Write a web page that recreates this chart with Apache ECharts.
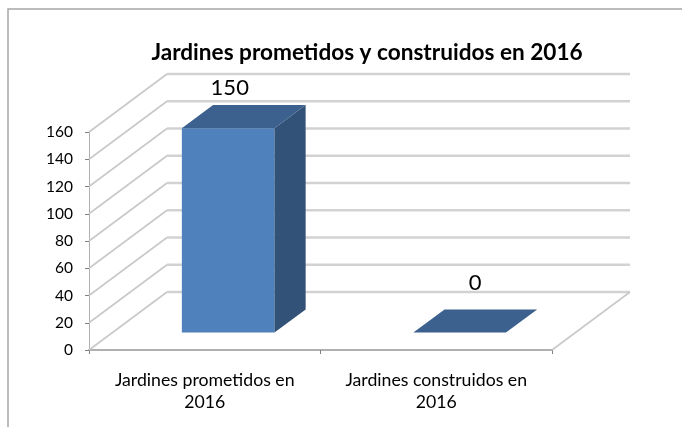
<!DOCTYPE html>
<html>
<head>
<meta charset="utf-8">
<style>html,body{margin:0;padding:0;background:#fff}#main{width:682px;height:427px}</style>
<script src="https://cdn.jsdelivr.net/npm/echarts@6/dist/echarts.min.js"></script>
</head>
<body>
<div id="main"></div>
<script>
var categories = ['Jardines prometidos en\n2016', 'Jardines construidos en\n2016'];
var values = [150, 0];
var gridValues = [0, 20, 40, 60, 80, 100, 120, 140, 160];

// profundidad del "3D" en pixeles
var depthX = 78, depthY = 58;
var barStart = 0.3, barEnd = 0.7, barShare = 0.4;
var gridColor = '#c9c9c9';
// las etiquetas estan movidas a mano en el original
var labelShift = [[-14, -6], [0, -15]];

var myChart = echarts.init(document.getElementById('main'));

function renderWall(params, api) {
    var v = api.value(0);
    var band = api.size([1, 0])[0];
    var left = api.coord([0, v]);
    var right = api.coord([1, v]);
    var x0 = left[0] - band / 2;
    var x1 = right[0] + band / 2;
    var y = left[1];
    var children = [{
        type: 'polyline',
        shape: {points: [[x0, y], [x0 + depthX, y - depthY]]},
        style: {stroke: gridColor, lineWidth: 1.6, fill: null}
    }, {
        type: 'line',
        shape: {x1: x0 + depthX, y1: y - depthY, x2: x1 + depthX, y2: y - depthY},
        style: {stroke: '#d2d2d2', lineWidth: 2.5}
    }];
    if (v === 0) {
        children.push({
            type: 'polyline',
            shape: {points: [[x1, y], [x1 + depthX, y - depthY]]},
            style: {stroke: gridColor, lineWidth: 1.6, fill: null}
        });
    }
    return {type: 'group', children: children};
}

function renderBar(params, api) {
    var cat = api.value(0);
    var v = api.value(1);
    var base = api.coord([cat, 0]);
    var top = api.coord([cat, v]);
    var band = api.size([1, 0])[0];
    var w = band * barShare;
    var dx = depthX * barStart, dy = depthY * barStart;
    var ddx = depthX * (barEnd - barStart), ddy = depthY * (barEnd - barStart);
    var x0 = base[0] - w / 2 + dx, x1 = x0 + w;
    var yb = base[1] - dy, yt = top[1] - dy;
    var children = [];
    if (v > 0) {
        children.push({
            type: 'rect',
            shape: {x: x0, y: yt, width: w, height: yb - yt},
            style: {fill: '#4f81bd'}
        });
        children.push({
            type: 'polygon',
            shape: {points: [[x1, yt], [x1 + ddx, yt - ddy], [x1 + ddx, yb - ddy], [x1, yb]]},
            style: {fill: '#325278'}
        });
    }
    children.push({
        type: 'polygon',
        shape: {points: [[x0, yt], [x0 + ddx, yt - ddy], [x1 + ddx, yt - ddy], [x1, yt]]},
        style: {fill: '#3c618e'}
    });
    children.push({
        type: 'text',
        style: {
            text: String(v),
            x: (x0 + x1) / 2 + ddx / 2 + labelShift[cat][0],
            y: yt - ddy + labelShift[cat][1],
            align: 'center',
            verticalAlign: 'bottom',
            fill: '#000',
            font: '22px Lato'
        }
    });
    return {type: 'group', children: children};
}

myChart.setOption({
    animation: false,
    backgroundColor: '#fff',
    title: {
        text: 'Jardines prometidos y construidos en 2016',
        left: 362,
        top: 36,
        textAlign: 'center',
        textStyle: {fontFamily: 'Lato', fontWeight: 'bold', fontSize: 22.6, color: '#000'}
    },
    graphic: [{
        type: 'polyline',
        silent: true,
        shape: {points: [[8, 427], [8, 9], [682, 9]]},
        style: {stroke: '#a6a6a6', lineWidth: 1.5, fill: null}
    }],
    grid: {left: 89, top: 132, width: 463, height: 218},
    xAxis: {
        type: 'category',
        data: categories,
        axisLine: {lineStyle: {color: '#b0b0b0', width: 2}},
        axisTick: {show: true, length: 4, lineStyle: {color: '#808080'}},
        axisLabel: {fontFamily: 'Lato', fontSize: 17.7, color: '#000', margin: 19, lineHeight: 22, interval: 0, hideOverlap: false}
    },
    yAxis: {
        type: 'value',
        min: 0,
        max: 160,
        interval: 20,
        axisLine: {show: true, lineStyle: {color: '#b0b0b0'}},
        axisTick: {show: true, length: 4, lineStyle: {color: '#808080'}},
        axisLabel: {fontFamily: 'Lato', fontSize: 15.5, color: '#000', margin: 16},
        splitLine: {show: false}
    },
    series: [{
        type: 'custom',
        renderItem: renderWall,
        data: gridValues.map(function (v) { return [v]; }),
        encode: {y: 0},
        silent: true,
        z: 1
    }, {
        type: 'custom',
        renderItem: renderBar,
        data: values.map(function (v, i) { return [i, v]; }),
        encode: {x: 0, y: 1},
        clip: false,
        silent: true,
        z: 2
    }]
});
</script>
</body>
</html>
